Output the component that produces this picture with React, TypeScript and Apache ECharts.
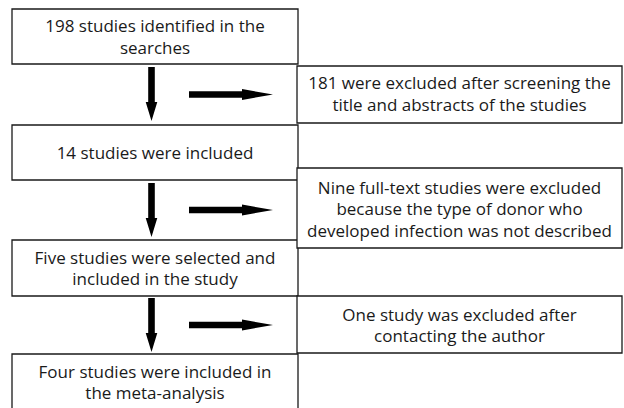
import React, { useEffect, useRef } from "react";
import * as echarts from "echarts";

// Flow steps (main column) and exclusions (right column)
const mainSteps: string[] = [
  "198 studies identified in the\nsearches",
  "14 studies were included",
  "Five studies were selected and\nincluded in the study",
  "Four studies were included in\nthe meta-analysis",
];
const exclusions: string[] = [
  "181 were excluded after screening the\ntitle and abstracts of the studies",
  "Nine full-text studies were excluded\nbecause the type of donor who\ndeveloped infection was not described",
  "One study was excluded after\ncontacting the author",
];

// layout (positions only)
const mainBoxes = [
  { x: 12, y: 9, w: 286, h: 55, ty: 36.5 },
  { x: 12, y: 125, w: 286, h: 55, ty: 152.5 },
  { x: 12, y: 240, w: 286, h: 56, ty: 268 },
  { x: 12, y: 354, w: 286, h: 56, ty: 382 },
];
const exclBoxes = [
  { x: 297, y: 66, w: 325, h: 57, ty: 93.5 },
  { x: 297, y: 168, w: 325, h: 80, ty: 208.5 },
  { x: 297, y: 296, w: 325, h: 57, ty: 325 },
];
const downArrows = [
  { x: 151.5, y1: 67, y2: 121 },
  { x: 151.5, y1: 183, y2: 237 },
  { x: 151.5, y1: 298, y2: 352 },
];
const rightArrows = [
  { y: 94.5, x1: 189, x2: 273 },
  { y: 210, x1: 189, x2: 273 },
  { y: 325, x1: 189, x2: 273 },
];

const FONT = "Open Sans";

export default function App() {
  const ref = useRef<HTMLDivElement>(null);
  useEffect(() => {
    document.body.style.margin = "0";
    if (!ref.current) return;
    const chart = echarts.init(ref.current, undefined, { renderer: "svg" });
    const elements: any[] = [];
    const box = (b: any, text: string) => {
      elements.push({
        type: "rect",
        shape: { x: b.x, y: b.y, width: b.w, height: b.h },
        style: { fill: "#fff", stroke: "#1a1a1a", lineWidth: 1.3 },
      });
      elements.push({
        type: "text",
        x: b.x + b.w / 2,
        y: b.ty,
        style: {
          text,
          fill: "#1a1a1a",
          fontFamily: FONT,
          fontSize: 17,
          fontWeight: 400,
          align: "center",
          verticalAlign: "middle",
          lineHeight: 21.5,
        },
      });
    };
    mainSteps.forEach((t, i) => box(mainBoxes[i], t));
    exclusions.forEach((t, i) => box(exclBoxes[i], t));
    downArrows.forEach((a) => {
      const sw = 3.3, hw = 5.8, hl = 19;
      elements.push({
        type: "polygon",
        shape: {
          points: [
            [a.x - sw, a.y1],
            [a.x + sw, a.y1],
            [a.x + sw, a.y2 - hl],
            [a.x + hw, a.y2 - hl],
            [a.x, a.y2],
            [a.x - hw, a.y2 - hl],
            [a.x - sw, a.y2 - hl],
          ],
        },
        style: { fill: "#000" },
      });
    });
    rightArrows.forEach((a) => {
      const sw = 3.2, hw = 5.5, hl = 31;
      elements.push({
        type: "polygon",
        shape: {
          points: [
            [a.x1, a.y - sw],
            [a.x2 - hl, a.y - sw],
            [a.x2 - hl, a.y - hw],
            [a.x2, a.y],
            [a.x2 - hl, a.y + hw],
            [a.x2 - hl, a.y + sw],
            [a.x1, a.y + sw],
          ],
        },
        style: { fill: "#000" },
      });
    });
    chart.setOption({
      animation: false,
      backgroundColor: "#fff",
      graphic: { elements },
    });
    return () => chart.dispose();
  }, []);
  return <div ref={ref} style={{ width: 624, height: 408 }} />;
}
